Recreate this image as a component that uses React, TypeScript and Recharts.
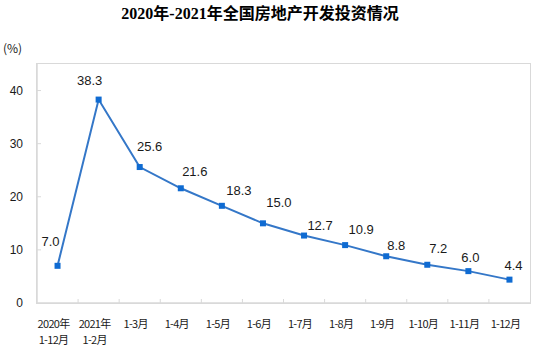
import React from "react";
import { LineChart, Line, XAxis, YAxis, LabelList } from "recharts";

const categories = [
  "2020年\n1-12月",
  "2021年\n1-2月",
  "1-3月",
  "1-4月",
  "1-5月",
  "1-6月",
  "1-7月",
  "1-8月",
  "1-9月",
  "1-10月",
  "1-11月",
  "1-12月",
];
const growth = [7.0, 38.3, 25.6, 21.6, 18.3, 15.0, 12.7, 10.9, 8.8, 7.2, 6.0, 4.4];
const yTicks = [0, 10, 20, 30, 40];
const yDomain = [0, 45];

// label offsets (style only)
const labelDx = [-7, -9, 10, 14, 17, 16, 16, 16, 10, 11, 2, 4];
const labelDy = [-25, -20, -21, -17, -16, -21, -11, -16, -11, -17, -14, -15];

const data = categories.map((c, i) => ({ name: c, value: growth[i] }));

const W = 541;
const H = 351;
const MT = 64;
const MR = 11;
const YW = 37;
const XH = 48;
const LINE = "#3477C8";
const DOT = "#0F6BD2";
const BOX = "#D9D9D9";
const TXT = "#1a1a1a";

const XTick = (props: any) => {
  const { x, y, payload, index, width } = props;
  const step = width / categories.length;
  const lines = String(payload.value).split("\n");
  return (
    <g>
      {index > 0 && (
        <line x1={x - step / 2} x2={x - step / 2} y1={y} y2={y - 4} stroke={BOX} strokeWidth={1} />
      )}
      {lines.map((t, i) => (
        <text
          key={i}
          x={x - 4}
          y={y + 25 + i * 16}
          textAnchor="middle"
          fontSize={11}
          letterSpacing={-0.7}
          fontFamily="'Noto Sans CJK SC', sans-serif"
          fill={TXT}
        >
          {t}
        </text>
      ))}
    </g>
  );
};

const YTick = (props: any) => {
  const { x, y, payload } = props;
  return (
    <g>
      {payload.value !== 0 && <line x1={x} x2={x + 4} y1={y} y2={y} stroke={BOX} strokeWidth={1} />}
      <text
        x={x - 14}
        y={y}
        dy={4}
        textAnchor="end"
        fontSize={12}
        fontFamily="'Liberation Sans', Arial, sans-serif"
        fill={TXT}
      >
        {payload.value}
      </text>
    </g>
  );
};

const SquareDot = (props: any) => {
  const { cx, cy } = props;
  if (cx == null || cy == null) return null;
  return <rect x={cx - 3} y={cy - 3} width={6} height={6} fill={DOT} />;
};

const ValueLabel = (props: any) => {
  const { x, y, value, index } = props;
  return (
    <text
      x={x + labelDx[index]}
      y={y + labelDy[index]}
      dy={5}
      textAnchor="middle"
      fontSize={13}
      fontFamily="'Liberation Sans', Arial, sans-serif"
      fill={TXT}
    >
      {Number(value).toFixed(1)}
    </text>
  );
};

export default function App() {
  const plotW = W - YW - MR;
  const plotH = H - MT - XH;
  return (
    <div style={{ position: "absolute", left: 0, top: 0, width: W, height: H, background: "#fff" }}>
      <div
        style={{
          position: "absolute",
          left: 0,
          top: 4,
          width: 520,
          textAlign: "center",
          fontSize: 16,
          lineHeight: "20px",
          fontWeight: "bold",
          fontFamily: "'Liberation Serif', 'Times New Roman', 'Noto Sans CJK SC', serif",
          color: "#000",
        }}
      >
        2020年-2021年全国房地产开发投资情况
      </div>
      <div
        style={{
          position: "absolute",
          left: 3,
          top: 41,
          fontSize: 12,
          lineHeight: "14px",
          fontFamily: "'Noto Sans CJK SC', sans-serif",
          color: TXT,
        }}
      >
        (%)
      </div>
      <div
        style={{
          position: "absolute",
          left: YW - 0.75,
          top: MT - 0.75,
          width: plotW + 1.5,
          height: plotH + 1.5,
          boxSizing: "border-box",
          border: `1.5px solid ${BOX}`,
          pointerEvents: "none",
        }}
      />
      <LineChart
        width={W}
        height={H}
        data={data}
        margin={{ top: MT, right: MR, bottom: 0, left: 0 }}
      >
        <XAxis
          dataKey="name"
          scale="band"
          interval={0}
          tickSize={0}
          tickMargin={0}
          tickLine={false}
          axisLine={{ stroke: BOX, strokeWidth: 1.5 }}
          tick={<XTick />}
          height={XH}
        />
        <YAxis
          domain={yDomain}
          ticks={yTicks}
          width={YW}
          tickSize={0}
          tickMargin={0}
          tickLine={false}
          axisLine={{ stroke: BOX, strokeWidth: 1.5 }}
          tick={<YTick />}
          interval={0}
        />
        <Line
          dataKey="value"
          stroke={LINE}
          strokeWidth={2}
          dot={<SquareDot />}
          activeDot={false}
          isAnimationActive={false}
        >
          <LabelList dataKey="value" content={<ValueLabel />} />
        </Line>
      </LineChart>
    </div>
  );
}
